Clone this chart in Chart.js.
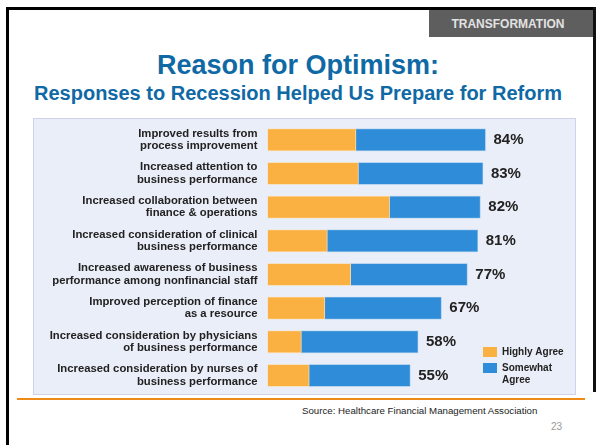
<!DOCTYPE html>
<html>
<head>
<meta charset="utf-8">
<script src="https://cdn.jsdelivr.net/npm/chart.js@4"></script>
<style>
  html, body { margin:0; padding:0; background:#fff; }
  body { width:596px; height:445px; position:relative; overflow:hidden; font-family:"Liberation Sans", Arial, sans-serif; }
  .abs { position:absolute; }
  #frameTop { left:6px; top:7px; width:590px; height:3px; background:#000; }
  #frameLeft { left:6px; top:7px; width:3px; height:438px; background:#000; }
  #frameRight { left:593px; top:7px; width:3px; height:385px; background:#111; }
  #tab { left:429px; top:10px; width:164px; height:27px; background:#5e5e5e; color:#e2e2e2;
         font-family:"Liberation Sans Narrow","Liberation Sans",Arial,sans-serif; font-weight:bold; font-size:12px;
         line-height:28px; text-align:center; padding-right:6px; box-sizing:border-box; }
  #title { left:0; width:596px; top:49px; text-align:center; color:#0f69a5; font-weight:bold; font-size:27px; line-height:32px; }
  #subtitle { left:0; width:596px; top:81px; text-align:center; color:#0f69a5; font-weight:bold; font-size:20px; line-height:24px; }
  #panel { left:33px; top:118px; width:541px; height:275px; background:#eaeef8; border:1px solid #cfd2ec; }
  #orangeLine { left:17px; top:398px; width:568px; height:2px; background:#ef8a17; }
  #source { left:302px; top:405px; font-size:9.7px; color:#222; }
  #page { left:551px; top:421px; font-size:10px; color:#9a9a9a; }
  canvas { position:absolute; left:0; top:0; }
</style>
</head>
<body>
<div class="abs" id="panel"></div>
<div class="abs" id="frameTop"></div>
<div class="abs" id="frameLeft"></div>
<div class="abs" id="frameRight"></div>
<div class="abs" id="tab">TRANSFORMATION</div>
<div class="abs" id="title">Reason for Optimism:</div>
<div class="abs" id="subtitle">Responses to Recession Helped Us Prepare for Reform</div>
<div class="abs" id="orangeLine"></div>
<div class="abs" id="source">Source: Healthcare Financial Management Association</div>
<div class="abs" id="page">23</div>
<canvas id="c" width="596" height="445"></canvas>
<script>
const categories = [
  ["Improved results from", "process improvement"],
  ["Increased attention to", "business performance"],
  ["Increased collaboration between", "finance & operations"],
  ["Increased consideration of clinical", "business performance"],
  ["Increased awareness of business", "performance among nonfinancial staff"],
  ["Improved perception of finance", "as a resource"],
  ["Increased consideration by physicians", "of business performance"],
  ["Increased consideration by nurses of", "business performance"]
];
const highlyAgree   = [34, 35, 47, 23, 32, 22, 13, 16];
const somewhatAgree = [50, 48, 35, 58, 45, 45, 45, 39];
const totalLabels   = ["84%", "83%", "82%", "81%", "77%", "67%", "58%", "55%"];
const seriesNames   = ["Highly Agree", ["Somewhat", "Agree"]];

const ORANGE = "#fbb042";
const BLUE = "#2f8cd8";

const totalsPlugin = {
  id: "totals",
  afterDatasetsDraw(chart) {
    const ctx = chart.ctx;
    const xs = chart.scales.x, ys = chart.scales.y;
    ctx.save();
    ctx.font = "bold 15px 'Liberation Sans', Arial, sans-serif";
    ctx.fillStyle = "#222";
    ctx.textBaseline = "middle";
    ctx.textAlign = "left";
    categories.forEach((c, i) => {
      const t = highlyAgree[i] + somewhatAgree[i];
      const x = xs.getPixelForValue(t) + 8;
      const y = ys.getPixelForValue(i);
      ctx.fillText(totalLabels[i], x, y);
    });
    // legend
    const colors = [ORANGE, BLUE];
    const lx = 483, ly = [347, 363];
    ctx.font = "bold 10px 'Liberation Sans', Arial, sans-serif";
    seriesNames.forEach((n, k) => {
      ctx.fillStyle = colors[k];
      ctx.fillRect(lx, ly[k], 14, 10);
      ctx.fillStyle = "#222";
      const lines = Array.isArray(n) ? n : [n];
      lines.forEach((ln, j) => ctx.fillText(ln, lx + 19, ly[k] + 5 + j * 12));
    });
    ctx.restore();
  }
};

new Chart(document.getElementById("c"), {
  type: "bar",
  data: {
    labels: categories,
    datasets: [
      { label: "Highly Agree", data: highlyAgree, backgroundColor: ORANGE, borderColor: "#fcd9a0", borderWidth: 0.8, borderSkipped: false },
      { label: "Somewhat Agree", data: somewhatAgree, backgroundColor: BLUE, borderColor: "#8dbfe9", borderWidth: 0.8, borderSkipped: false }
    ]
  },
  options: {
    indexAxis: "y",
    responsive: false,
    animation: false,
    layout: { padding: { left: 27.5, top: 123, bottom: 52.7, right: 69 } },
    datasets: { bar: { barThickness: 22 } },
    plugins: { legend: { display: false }, tooltip: { enabled: false }, title: { display: false } },
    scales: {
      x: {
        stacked: true, min: 0, max: 100, display: false
      },
      y: {
        stacked: true,
        grid: { display: false },
        border: { display: false },
        afterFit(axis) { axis.width = 240; },
        ticks: {
          padding: 2,
          color: "#222",
          font: { family: "'Liberation Sans', Arial, sans-serif", size: 11.3, weight: "bold", lineHeight: 1.1 }
        }
      }
    }
  },
  plugins: [totalsPlugin]
});
</script>
</body>
</html>
